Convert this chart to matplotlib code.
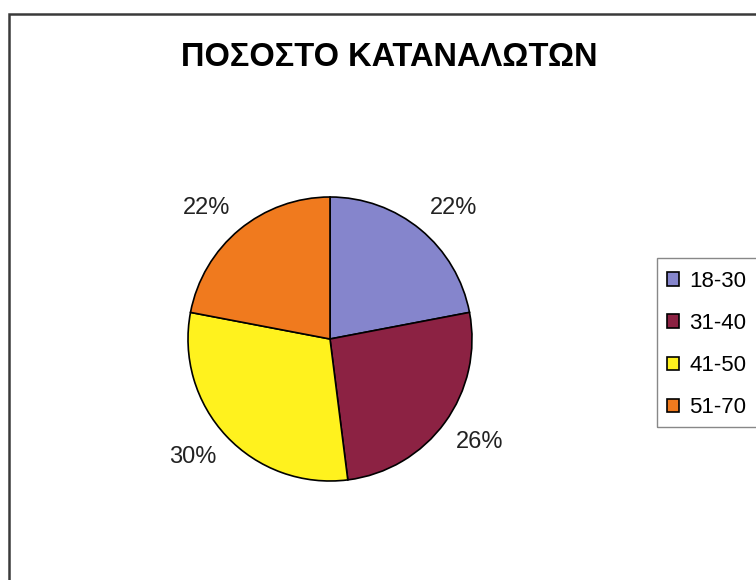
import matplotlib
matplotlib.use("Agg")
import numpy as np
import matplotlib.pyplot as plt
import matplotlib.patches as patches

# Consumer share by age group
age_groups = ["18-30", "31-40", "41-50", "51-70"]
shares = [22, 26, 30, 22]
colors = ["#8585cc", "#8c2243", "#fff21e", "#f07a1e"]
title = "ΠΟΣΟΣΤΟ ΚΑΤΑΝΑΛΩΤΩΝ"

W, H = 756, 580
plt.rcParams["font.family"] = ["Liberation Sans", "DejaVu Sans"]
fig = plt.figure(figsize=(W / 100, H / 100), dpi=100)

# Outer chart frame (right side runs off the page)
fig.patches.append(patches.Rectangle((9 / W, -0.05), 1.2, (H - 14) / H + 0.05,
                                     transform=fig.transFigure, fill=False,
                                     edgecolor="#3a3a3a", linewidth=1.8))

# Pie axes: centre (330, 339) px, radius 142 px
cx, cy, r = 330, 339, 142
lim = 1.5
size = 2 * r * lim
ax = fig.add_axes([(cx - size / 2) / W, (H - cy - size / 2) / H, size / W, size / H])
wedges, texts, autotexts = ax.pie(
    shares, colors=colors, startangle=90, counterclock=False,
    autopct=lambda p: f"{p:.0f}%", pctdistance=1.1,
    wedgeprops=dict(edgecolor="black", linewidth=1.2),
    textprops=dict(fontsize=17, color="#222222"))

# anchor each percent label by its corner nearest the pie
for w, t in zip(wedges, autotexts):
    mid = np.deg2rad((w.theta1 + w.theta2) / 2)
    t.set_ha("left" if np.cos(mid) >= 0 else "right")
    t.set_va("bottom" if np.sin(mid) >= 0 else "top")

ax.set_xlim(-lim, lim)
ax.set_ylim(-lim, lim)
ax.set_aspect("equal")
ax.axis("off")

fig.text(389 / W, 1 - 57 / H, title, ha="center", va="center",
         fontsize=23.5, fontweight="bold")

# Legend box drawn as a rectangle that runs past the right edge
fig.patches.append(patches.Rectangle((657 / W, 1 - 427 / H), 0.3, (427 - 258) / H,
                                     transform=fig.transFigure, fill=False,
                                     edgecolor="#888888", linewidth=1.0))
fig.legend(wedges, age_groups, loc="upper left",
           bbox_to_anchor=(658 / W, 1 - 262 / H), frameon=False,
           fontsize=16, handlelength=0.55, handleheight=0.55,
           handletextpad=0.45, labelspacing=0.95, borderpad=0.4,
           borderaxespad=0)

fig.savefig("out.png", dpi=100, facecolor="white")
